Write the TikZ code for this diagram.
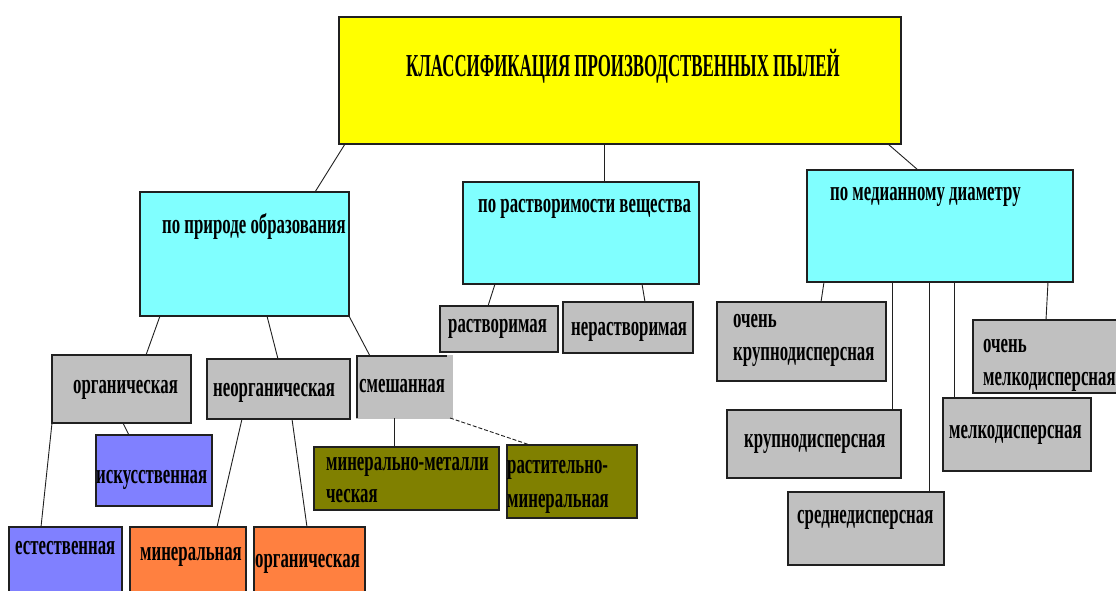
\documentclass[tikz,border=0pt]{standalone}
\usepackage{fontspec}
\newfontfamily\rfont[FakeStretch=0.6]{Liberation Serif}
\newfontfamily\tfont[FakeStretch=0.527]{Liberation Serif}
\definecolor{cYel}{HTML}{FFFF00}
\definecolor{cCyan}{HTML}{80FFFF}
\definecolor{cGray}{HTML}{C0C0C0}
\definecolor{cBlue}{HTML}{8080FF}
\definecolor{cOrange}{HTML}{FF8040}
\definecolor{cOlive}{HTML}{808000}
\definecolor{cLine}{HTML}{202020}
\begin{document}
\begin{tikzpicture}[x=1pt,y=-1pt,
  box/.style={draw=cLine,line width=1.3pt,inner sep=0pt,outer sep=0pt,anchor=north west},
  ln/.style={draw=cLine,line width=0.9pt},
  txt/.style={font=\rfont\bfseries\fontsize{28}{32}\selectfont,inner sep=0pt,anchor=base west},
  ttl/.style={font=\tfont\bfseries\fontsize{32}{36}\selectfont,inner sep=0pt,anchor=base west}]
\useasboundingbox (0,0) rectangle (1116,590);
\clip (0,0) rectangle (1116,590);
\fill[white] (0,0) rectangle (1116,590);
% boxes
\node[box,fill=cYel,minimum width=562pt,minimum height=127pt] (title) at (339,17) {};
\node[box,fill=cCyan,minimum width=209pt,minimum height=124pt] (b1) at (140,192) {};
\node[box,fill=cCyan,minimum width=236pt,minimum height=102pt] (b2) at (463,182) {};
\node[box,fill=cCyan,minimum width=266pt,minimum height=112pt] (b3) at (807,170) {};
\node[box,fill=cGray,minimum width=139pt,minimum height=68pt] (org) at (52,355) {};
\node[box,fill=cGray,minimum width=143pt,minimum height=60pt] (neorg) at (207,359) {};
\node[box,draw=cGray,fill=cGray,minimum width=95pt,minimum height=62pt] (mix) at (357,356) {};
\draw[line width=1.3pt,cLine] (mix.south west) -- (mix.north west) -- ([xshift=-5pt]mix.north east);
\node[box,fill=cBlue,minimum width=116pt,minimum height=71pt] (isk) at (96,435) {};
\node[box,fill=cBlue,minimum width=113pt,minimum height=70pt] (est) at (9,527) {};
\node[box,fill=cOrange,minimum width=116pt,minimum height=70pt] (min) at (130,527) {};
\node[box,fill=cOrange,minimum width=111pt,minimum height=70pt] (org2) at (254,527) {};
\node[box,fill=cOlive,minimum width=185pt,minimum height=63pt] (mm) at (314,447) {};
\node[box,fill=cOlive,minimum width=130pt,minimum height=73pt] (rm) at (507,445) {};
\node[box,fill=cGray,minimum width=118pt,minimum height=46pt] (rast) at (440,306) {};
\node[box,fill=cGray,minimum width=130pt,minimum height=51pt] (nerast) at (563,302) {};
\node[box,fill=cGray,minimum width=169pt,minimum height=79pt] (vk) at (717,302) {};
\node[box,fill=cGray,minimum width=174pt,minimum height=68pt] (k) at (727,410) {};
\node[box,fill=cGray,minimum width=156pt,minimum height=73pt] (sr) at (788,492) {};
\node[box,fill=cGray,minimum width=148pt,minimum height=73pt] (m) at (943,398) {};
\node[box,fill=cGray,minimum width=150pt,minimum height=73pt] (vm) at (973,320) {};
% connectors
\draw[ln] (title.south -| 345,0) -- (b1.north -| 315,0);
\draw[ln] (title.south -| 604,0) -- (b2.north -| 604,0);
\draw[ln] (title.south -| 888,0) -- (b3.north -| 918,0);
\draw[ln] (b1.south -| 160,0) -- (org.north -| 146,0);
\draw[ln] (b1.south -| 267,0) -- (neorg.north -| 278,0);
\draw[ln] (b1.south -| 349,0) -- (mix.north -| 370,0);
\draw[ln] (org.south -| 123,0) -- (isk.north -| 129,0);
\draw[ln] (org.south -| 52,0) -- (est.north -| 41,0);
\draw[ln] (neorg.south -| 242,0) -- (min.north -| 217,0);
\draw[ln] (neorg.south -| 292,0) -- (org2.north -| 307,0);
\draw[ln] (mix.south -| 394,0) -- (mm.north -| 394,0);
\draw[ln,dashed,dash pattern=on 4pt off 2pt] (mix.south -| 450,0) -- (rm.north -| 530,0);
\draw[ln] (b2.south -| 495,0) -- (rast.north -| 488,0);
\draw[ln] (b2.south -| 642,0) -- (nerast.north -| 645,0);
\draw[ln] (b3.south -| 824,0) -- (vk.north -| 821,0);
\draw[ln] (b3.south -| 892,0) -- (k.north -| 892,0);
\draw[ln] (b3.south -| 929,0) -- (sr.north -| 929,0);
\draw[ln] (b3.south -| 954,0) -- (m.north -| 954,0);
\draw[ln] (b3.south -| 1048,0) -- (vm.north -| 1046,0);
% texts
\node[ttl] (tTitle) at (406,76) {КЛАССИФИКАЦИЯ ПРОИЗВОДСТВЕННЫХ ПЫЛЕЙ};
\node[txt] (tb1) at (162,233) {по природе образования};
\node[txt] (tb2) at (478,212) {по растворимости вещества};
\node[txt] (tb3) at (830,200) {по медианному диаметру};
\node[txt] (torg) at (73,393) {органическая};
\node[txt] (tneorg) at (213,396) {неорганическая};
\node[txt] (tmix) at (359,392) {смешанная};
\node[txt] (tisk) at (96,483) {искусственная};
\node[txt] (test) at (15,554) {естественная};
\node[txt] (tmin) at (140,560) {минеральная};
\node[txt] (torg2) at (255,567) {органическая};
\node[txt] (tmm1) at (326,470) {минерально-металли};
\node[txt] (tmm2) at (326,502) {ческая};
\node[txt] (trm1) at (507,473) {растительно-};
\node[txt] (trm2) at (507,507) {минеральная};
\node[txt] (trast) at (448,332) {растворимая};
\node[txt] (tnerast) at (571,335) {нерастворимая};
\node[txt] (tvk1) at (733,327) {очень};
\node[txt] (tvk2) at (733,360) {крупнодисперсная};
\node[txt] (tk) at (744,447) {крупнодисперсная};
\node[txt] (tsr) at (797,523) {среднедисперсная};
\node[txt] (tm) at (949,438) {мелкодисперсная};
\node[txt] (tvm1) at (983,352) {очень};
\node[txt] (tvm2) at (983,385) {мелкодисперсная};
\end{tikzpicture}
\end{document}
